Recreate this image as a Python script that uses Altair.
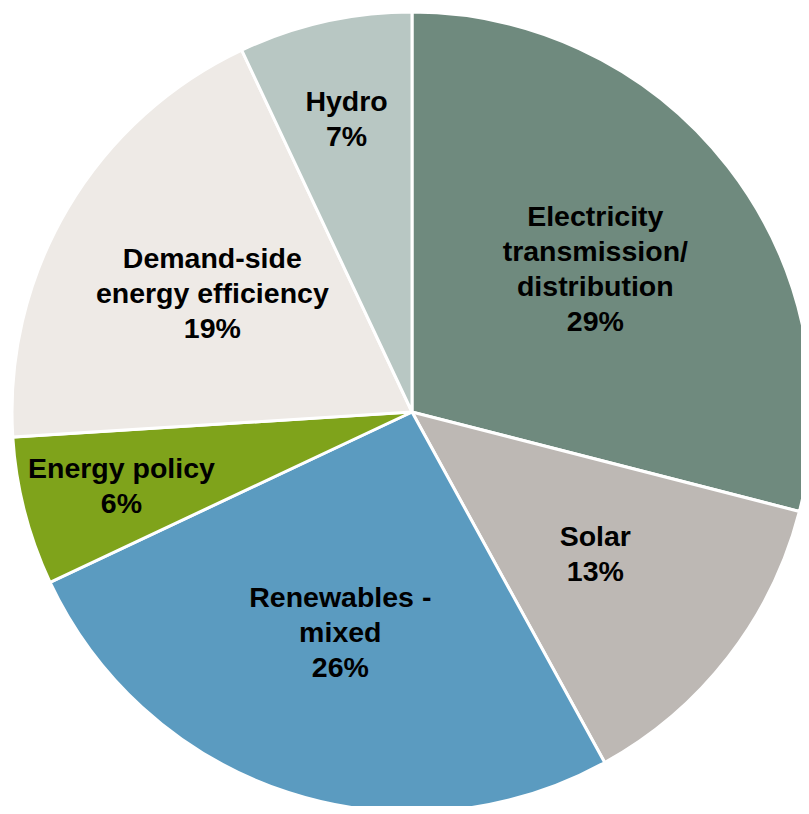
import altair as alt
import pandas as pd

categories = ["Electricity transmission/distribution", "Solar", "Renewables - mixed",
              "Energy policy", "Demand-side energy efficiency", "Hydro"]
labels = ["Electricity\ntransmission/\ndistribution", "Solar", "Renewables -\nmixed",
          "Energy policy", "Demand-side\nenergy efficiency", "Hydro"]
values = [29, 13, 26, 6, 19, 7]
colors = ["#6f8a7e", "#bdb8b4", "#5b9bc0", "#7fa31b", "#eeeae6", "#b8c7c3"]

full_labels = [f"{l}\n{v}%" for l, v in zip(labels, values)]
df = pd.DataFrame({
    "category": categories,
    "label": full_labels,
    "nlines": [s.count("\n") + 1 for s in full_labels],
    "value": values,
    "order": list(range(len(values))),
})

theta_scale = alt.Scale(domain=[0, 100], range=[0, 6.283185307])
LINE_H = 35

base = alt.Chart(df).transform_window(
    cum="sum(value)", sort=[alt.SortField("order")], frame=[None, 0]
).transform_calculate(
    start="datum.cum - datum.value",
    mid="datum.cum - datum.value / 2",
    lr="datum.value < 10 ? 300 : 232",
).encode(
    x=alt.value(404),
    y=alt.value(404),
)

arcs = base.mark_arc(outerRadius=400, stroke="white", strokeWidth=3).encode(
    theta=alt.Theta("start:Q", scale=theta_scale),
    theta2="cum:Q",
    color=alt.Color("category:N", scale=alt.Scale(domain=categories, range=colors), legend=None),
)

layers = [arcs]
for n in sorted(set(df["nlines"])):
    layers.append(
        base.transform_filter(f"datum.nlines == {n}").mark_text(
            font="Liberation Sans", fontWeight="bold", fontSize=28.5, lineHeight=LINE_H,
            lineBreak="\n", align="center", baseline="middle", color="black",
            dy=-(n - 1) * LINE_H / 2,
        ).encode(
            theta=alt.Theta("mid:Q", scale=theta_scale),
            radius=alt.Radius("lr:Q", scale=None),
            text="label:N",
        )
    )

chart = alt.layer(*layers).properties(
    width=793, height=798, autosize="none", padding=0
).configure_view(stroke=None)

chart.save("out.html", embed_options={"renderer": "svg", "actions": False})
